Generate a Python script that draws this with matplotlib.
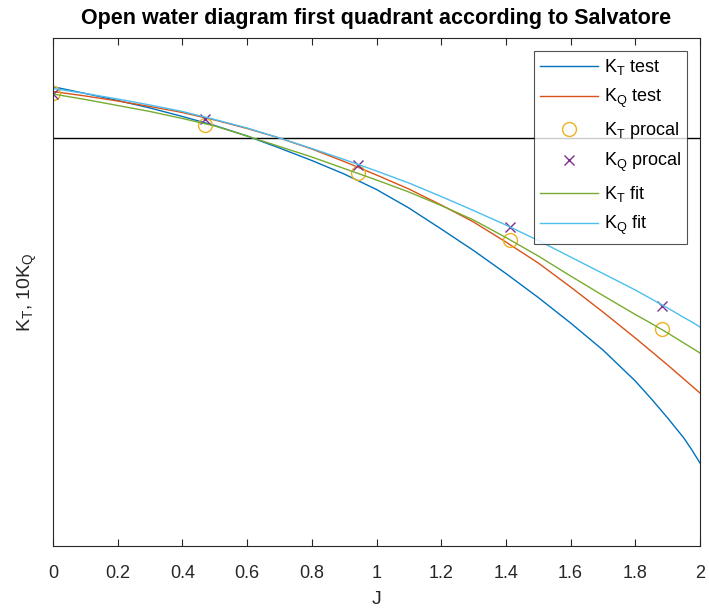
import matplotlib
matplotlib.use("Agg")
import matplotlib.pyplot as plt

plt.rcParams['font.family'] = ['Liberation Sans', 'DejaVu Sans']
plt.rcParams['mathtext.default'] = 'regular'

# Advance coefficient grid for the curves
J = [0.0, 0.1, 0.2, 0.3, 0.4, 0.5, 0.6, 0.7, 0.8, 0.9, 1.0,
     1.1, 1.2, 1.3, 1.4, 1.5, 1.6, 1.7, 1.8, 1.85, 1.9, 1.95, 1.975, 2.0]

kt_test = [0.4593, 0.4525, 0.4455, 0.438, 0.4295, 0.4205, 0.410, 0.398, 0.3855, 0.372, 0.3565,
           0.338, 0.317, 0.2955, 0.2725, 0.2485, 0.223, 0.196, 0.165, 0.147, 0.128, 0.108, 0.096, 0.083]
kq_test = [0.4545, 0.450, 0.445, 0.4395, 0.4335, 0.426, 0.4175, 0.408, 0.397, 0.3845, 0.371,
           0.357, 0.341, 0.324, 0.304, 0.283, 0.259, 0.234, 0.208, 0.1945, 0.181, 0.167, 0.160, 0.153]
kt_fit = [0.452, 0.4465, 0.4405, 0.4345, 0.4275, 0.420, 0.410, 0.3995, 0.389, 0.3775, 0.366,
          0.354, 0.3405, 0.326, 0.3085, 0.290, 0.270, 0.2505, 0.2315, 0.2225, 0.213, 0.203, 0.198, 0.193]
kq_fit = [0.4575, 0.4525, 0.447, 0.441, 0.4345, 0.4265, 0.418, 0.408, 0.3975, 0.3865, 0.375,
          0.363, 0.3495, 0.3355, 0.321, 0.3055, 0.289, 0.2725, 0.256, 0.247, 0.238, 0.2285, 0.224, 0.219]

# Procal points
J_procal = [0.0, 0.471, 0.942, 1.413, 1.884]
kt_procal = [0.4527, 0.4207, 0.3727, 0.306, 0.2167]
kq_procal = [0.452, 0.4267, 0.381, 0.3187, 0.240]

ref_level = 0.408

x_ticks = [0, 0.2, 0.4, 0.6, 0.8, 1, 1.2, 1.4, 1.6, 1.8, 2]
x_tick_labels = ['0', '0.2', '0.4', '0.6', '0.8', '1', '1.2', '1.4', '1.6', '1.8', '2']

fig = plt.figure(figsize=(7.09, 6.08), dpi=100)
ax = fig.add_axes([53 / 709, 62 / 608, 647 / 709, 508 / 608])

ax.axhline(ref_level, color='black', linewidth=1.0, zorder=1)

lw = 1.0
ax.plot(J, kt_test, color='#0072BD', linewidth=lw, label='$K_T$ test')
ax.plot(J, kq_test, color='#D95319', linewidth=lw, label='$K_Q$ test')
ax.plot(J_procal, kt_procal, linestyle='none', marker='o', markersize=10,
        markerfacecolor='none', markeredgecolor='#EDB120', markeredgewidth=1.0,
        label='$K_T$ procal')
ax.plot(J_procal, kq_procal, linestyle='none', marker='x', markersize=6.5,
        markeredgecolor='#7E2F8E', markeredgewidth=1.0, label='$K_Q$ procal')
ax.plot(J, kt_fit, color='#77AC30', linewidth=lw, label='$K_T$ fit')
ax.plot(J, kq_fit, color='#4DBEEE', linewidth=lw, label='$K_Q$ fit')

ax.set_xlim(0, 2)
ax.set_ylim(0, 0.508)
ax.set_xticks(x_ticks)
ax.set_xticklabels(x_tick_labels)
ax.set_yticks([])

axis_color = '#262626'
for s in ax.spines.values():
    s.set_color(axis_color)
    s.set_linewidth(0.8)
ax.tick_params(axis='x', direction='in', top=True, length=5, width=0.8,
               color=axis_color, labelsize=13, labelcolor=axis_color, pad=14)

ax.set_xlabel('J', fontsize=14, color=axis_color, labelpad=6)
ax.set_ylabel('$K_T$, 10$K_Q$', fontsize=14, color=axis_color, labelpad=10)
ax.set_title('Open water diagram first quadrant according to Salvatore',
             fontsize=15.5, fontweight='bold', color='black', pad=10)

leg = ax.legend(loc='upper right', fontsize=13, frameon=True, fancybox=False,
                edgecolor=axis_color, borderpad=0.35, handlelength=3.2,
                labelspacing=0.55, handletextpad=0.3, borderaxespad=0.7)
leg.get_frame().set_linewidth(0.8)

fig.savefig('out.png', dpi=100)
